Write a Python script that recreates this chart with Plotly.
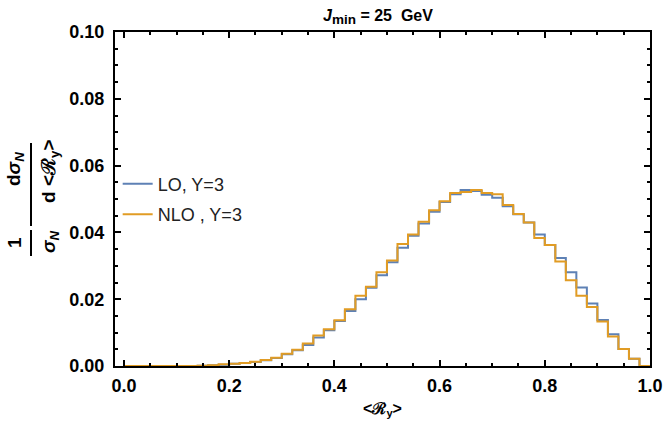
import numpy as np
import plotly.graph_objects as go

# histogram of <R_y>, 50 bins of width 0.02 on [0, 1]
bin_edges = np.round(np.arange(0, 1.0001, 0.02), 2)

lo_values = [
    0, 0, 0, 0, 0, 0, 0, 0.0001, 0.0002, 0.0004,
    0.0007, 0.0009, 0.0012, 0.0017, 0.0024, 0.0035, 0.0047, 0.0063, 0.0085, 0.0107,
    0.0135, 0.0165, 0.0200, 0.0234, 0.0272, 0.0311, 0.0354, 0.0390, 0.0427, 0.0462,
    0.0491, 0.0514, 0.0527, 0.0524, 0.0513, 0.0504, 0.0478, 0.0454, 0.0430, 0.0394,
    0.0362, 0.0323, 0.0281, 0.0235, 0.0187, 0.0138, 0.0095, 0.0051, 0.0022, 0,
]
nlo_values = [
    0, 0, 0, 0, 0, 0, 0, 0.0001, 0.0002, 0.0005,
    0.0007, 0.0009, 0.0013, 0.0018, 0.0025, 0.0037, 0.0049, 0.0067, 0.0091, 0.0110,
    0.0137, 0.0170, 0.0210, 0.0237, 0.0281, 0.0316, 0.0365, 0.0394, 0.0432, 0.0466,
    0.0493, 0.0518, 0.0521, 0.0527, 0.0518, 0.0514, 0.0482, 0.0455, 0.0430, 0.0383,
    0.0362, 0.0313, 0.0257, 0.0210, 0.0177, 0.0133, 0.0088, 0.0051, 0.0022, 0,
]

series = [
    ("LO, Y=3", lo_values, "#5E81B5"),
    ("NLO , Y=3", nlo_values, "#E19C24"),
]

FONT = "Liberation Sans, Arial, sans-serif"

W, H = 664, 426
# wanted plot area in window pixels
L, R, T, B = 115, 650, 32, 366


def px_x(p):
    return (p - L) / (R - L)


def px_y(p):
    return (B - p) / (B - T)


fig = go.Figure()
for i, (name, vals, color) in enumerate(series):
    fig.add_trace(go.Scatter(
        x=bin_edges,
        y=list(vals) + [vals[-1]],
        mode="lines",
        line=dict(color=color, width=2, shape="hv"),
        name=name,
        legendgroup=f"g{i}",
        hoverinfo="skip",
    ))

axis_common = dict(
    showline=True, linecolor="black", linewidth=2, mirror="ticks",
    ticks="inside", tickcolor="black", tickwidth=1.5, ticklen=6,
    showgrid=False, zeroline=False, automargin=False, ticklabeloverflow="allow",
    tickfont=dict(family=FONT, size=18, color="black", weight="bold"),
)

fig.update_xaxes(
    range=[-0.017, 1.0], tickvals=[0, 0.2, 0.4, 0.6, 0.8, 1.0],
    ticktext=["0.0", "0.2", "0.4", "0.6", "0.8", "1.0"],
    minor=dict(dtick=0.05, tick0=0, ticks="inside", ticklen=3, tickcolor="black", tickwidth=1.5),
    title=dict(text="<b>&lt;ℛ<sub>y</sub>&gt;</b>", standoff=8,
               font=dict(family=FONT, size=16, color="black")),
    ticklabelstandoff=2,
    **axis_common,
)
fig.update_yaxes(
    range=[0, 0.1], tickvals=[0, 0.02, 0.04, 0.06, 0.08, 0.10],
    ticktext=["0.00", "0.02", "0.04", "0.06", "0.08", "0.10"],
    minor=dict(dtick=0.005, tick0=0, ticks="inside", ticklen=3, tickcolor="black", tickwidth=1.5),
    ticklabelstandoff=5,
    **axis_common,
)

# y label: 1/sigma_N  d sigma_N / d<R_y>, built from rotated pieces
label_font = dict(family=FONT, size=19, color="black")
pieces = [
    ("<b>1</b>", 15, 243),
    ("<b><i>σ</i><sub><i>N</i></sub></b>", 50, 242),
    ("<b>d<i>σ</i><sub><i>N</i></sub></b>", 15, 169),
    ("<b>d &lt;ℛ<sub>y</sub>&gt;</b>", 50, 171),
]
for text, x, y in pieces:
    fig.add_annotation(
        text=text, x=px_x(x), y=px_y(y), xref="paper", yref="paper",
        textangle=-90, showarrow=False, xanchor="center", yanchor="middle",
        font=label_font,
    )
for y0, y1 in [(230, 256), (143, 226)]:
    fig.add_shape(type="line", xref="paper", yref="paper",
                  x0=px_x(31), x1=px_x(31), y0=px_y(y0), y1=px_y(y1),
                  line=dict(color="black", width=2))

fig.update_layout(
    width=W, height=H,
    margin=dict(l=L, r=W - R, t=T, b=H - B),
    paper_bgcolor="white", plot_bgcolor="white",
    title=dict(
        text="<b><i>J</i><sub><span style='font-size:13.5px'>min</span></sub>"
             " = 25&nbsp;&nbsp;GeV</b>",
        x=378 / W, xanchor="center", y=1 - 15 / H, yanchor="middle",
        font=dict(family=FONT, size=16, color="black")),
    legend=dict(x=0.005, y=0.60, xanchor="left", yanchor="top",
                bgcolor="rgba(0,0,0,0)", itemwidth=30, tracegroupgap=4,
                font=dict(family=FONT, size=18, color="#222")),
)

# drop the page's default body margin so the figure sits at the window corner
fig.write_html("out.html", default_width=f"{W}px", default_height=f"{H}px",
               config={"displayModeBar": False},
               post_script="document.body.style.margin = '0';")
